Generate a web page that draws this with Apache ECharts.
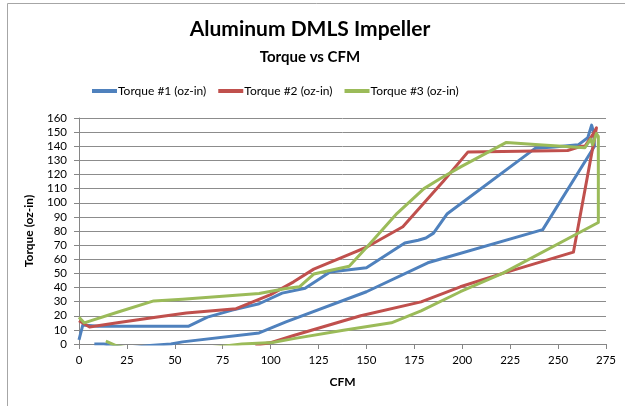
<!DOCTYPE html>
<html>
<head>
<meta charset="utf-8">
<script src="https://cdn.jsdelivr.net/npm/echarts@6/dist/echarts.min.js"></script>
<style>
  html, body { margin: 0; padding: 0; background: #fff; }
  #chart { width: 625px; height: 406px; }
</style>
</head>
<body>
<div id="chart"></div>
<script>
// CFM / torque pairs (each series is a loop: up then back down)
const torque1 = [
  [0, 3], [2, 13.5], [10, 12.5], [30, 12.5], [57, 12.5], [67, 19], [80, 24], [94, 28.5],
  [106, 36], [118, 39.5], [131, 51], [150, 54], [170, 71.5], [177, 73.5], [181, 75],
  [185, 78.5], [192, 92], [238, 138.5], [248, 139.5], [260.5, 141], [265.5, 146],
  [267.5, 155], [268.5, 150], [269, 140], [242, 81], [182, 57.5], [150, 37], [108, 15.6],
  [94, 7.8], [54, 1.5], [48, 0], [37, -1], [25, -3], [13, 0], [8, 0]
]
const torque2 = [
  [0, 16.5], [5.5, 12], [20, 15], [40, 19], [56, 22], [82, 25], [100, 35], [112, 44],
  [122.5, 53], [142, 64], [150, 68.5], [169, 83], [178.5, 97.5], [190, 115], [203, 136],
  [230, 136.5], [255, 137], [262, 140], [264, 140], [268, 148], [270, 153], [258, 65],
  [221, 50], [199, 40.5], [178.5, 29.8], [147, 20], [112, 6], [100, 1], [92, -1]
]
const torque3 = [
  [0, 19], [2.7, 15], [20, 22.5], [39, 30.5], [54, 31.7], [94, 35.8], [108, 39.3],
  [115, 40.5], [122.5, 49.5], [141, 55], [150.5, 69], [166, 92.5], [180, 110], [189, 117.5],
  [199.4, 125.6], [223, 142.7], [240, 141], [264, 139], [267, 145], [268, 141], [270, 149],
  [271, 147], [271, 86], [221, 50], [199, 37], [178.5, 23.4], [173, 20.4], [163, 15],
  [138, 9.7], [112, 3.8], [101, 1], [85, 0], [60, -4], [30, -4], [19, -1], [14, 2]
]
const seriesNames = ['Torque #1 (oz-in)', 'Torque #2 (oz-in)', 'Torque #3 (oz-in)']
const seriesColors = ['#4F81BD', '#C0504D', '#9BBB59']

const font = 'Lato, "Open Sans", sans-serif'
const myChart = echarts.init(document.getElementById('chart'))

myChart.setOption({
  animation: false,
  title: [
    { text: 'Aluminum DMLS Impeller', left: 305, top: 14, textAlign: 'center',
      textStyle: { fontFamily: font, fontSize: 21, fontWeight: 'bold', color: '#000' } },
    { text: 'Torque vs CFM', left: 305, top: 45, textAlign: 'center',
      textStyle: { fontFamily: font, fontSize: 15, fontWeight: 'bold', color: '#000' } }
  ],
  legend: {
    top: 85, left: 92, padding: 0,
    itemWidth: 25, itemHeight: 4, itemGap: 12,
    icon: 'rect',
    textStyle: { fontFamily: font, fontSize: 12, color: '#000', padding: [0, 0, 0, -4] },
    data: seriesNames
  },
  graphic: [{
    type: 'rect', shape: { x: 7.5, y: 3.5, width: 700, height: 500 },
    style: { fill: 'none', stroke: '#a6a6a6', lineWidth: 1 }, silent: true
  }],
  grid: { left: 79, right: 19, top: 118, bottom: 62 },
  xAxis: {
    type: 'value', min: 0, max: 275, interval: 25,
    name: 'CFM', nameLocation: 'middle', nameGap: 32,
    nameTextStyle: { fontFamily: font, fontSize: 12, fontWeight: 'bold', color: '#000' },
    axisLine: { lineStyle: { color: '#868686' } },
    axisTick: { show: true, length: 5, lineStyle: { color: '#868686' } },
    axisLabel: { fontFamily: font, fontSize: 11.5, color: '#000', margin: 10 },
    splitLine: { show: false }
  },
  yAxis: {
    type: 'value', min: 0, max: 160, interval: 10,
    name: 'Torque (oz-in)', nameLocation: 'middle', nameGap: 44,
    nameTextStyle: { fontFamily: font, fontSize: 12, fontWeight: 'bold', color: '#000' },
    axisLine: { show: true, lineStyle: { color: '#868686' } },
    axisTick: { show: true, length: 5, lineStyle: { color: '#868686' } },
    axisLabel: { fontFamily: font, fontSize: 11.5, color: '#000', margin: 12 },
    splitLine: { lineStyle: { color: '#8c8c8c' } }
  },
  series: [torque1, torque2, torque3].map((d, i) => ({
    name: seriesNames[i],
    type: 'line',
    data: d,
    showSymbol: false,
    clip: true,
    color: seriesColors[i],
    lineStyle: { width: 3, color: seriesColors[i], join: 'round' }
  }))
})
</script>
</body>
</html>
